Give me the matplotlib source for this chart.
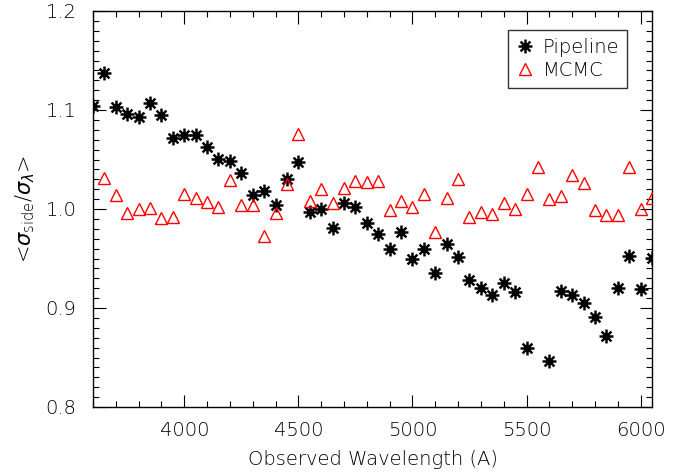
import matplotlib
matplotlib.use("Agg")
import matplotlib.pyplot as plt
from matplotlib.path import Path
from matplotlib.lines import Line2D
from matplotlib.ticker import MultipleLocator, FormatStrFormatter

plt.rcParams['font.family'] = ['DejaVu Sans']
plt.rcParams['font.weight'] = 'light'
plt.rcParams['axes.labelweight'] = 'light'
plt.rcParams['mathtext.fontset'] = 'dejavusans'

# Pipeline data (wavelength in Angstrom, ratio)
pipe_wave = [3600, 3650, 3700, 3750, 3800, 3850, 3900, 3950, 4000, 4050,
             4100, 4150, 4200, 4250, 4300, 4350, 4400, 4450, 4500, 4550,
             4600, 4650, 4700, 4750, 4800, 4850, 4900, 4950, 5000, 5050,
             5100, 5150, 5200, 5250, 5300, 5350, 5400, 5450, 5500, 5600,
             5650, 5700, 5750, 5800, 5850, 5900, 5950, 6000, 6050]
pipe_val = [1.104, 1.137, 1.103, 1.096, 1.093, 1.107, 1.095, 1.072, 1.075, 1.075,
            1.063, 1.051, 1.048, 1.036, 1.014, 1.018, 1.004, 1.030, 1.047, 0.997,
            1.000, 0.981, 1.006, 1.002, 0.986, 0.975, 0.960, 0.977, 0.950, 0.960,
            0.935, 0.965, 0.952, 0.928, 0.920, 0.913, 0.925, 0.916, 0.860, 0.846,
            0.917, 0.913, 0.905, 0.891, 0.872, 0.920, 0.953, 0.919, 0.951]

# MCMC data
mcmc_wave = [3650, 3700, 3750, 3800, 3850, 3900, 3950, 4000, 4050, 4100,
             4150, 4200, 4250, 4300, 4350, 4400, 4450, 4500, 4550, 4600,
             4650, 4700, 4750, 4800, 4850, 4900, 4950, 5000, 5050, 5100,
             5150, 5200, 5250, 5300, 5350, 5400, 5450, 5500, 5550, 5600,
             5650, 5700, 5750, 5800, 5850, 5900, 5950, 6000, 6050]
mcmc_val = [1.031, 1.014, 0.996, 1.000, 1.001, 0.991, 0.992, 1.015, 1.011, 1.007,
            1.002, 1.029, 1.004, 1.004, 0.973, 0.996, 1.025, 1.076, 1.008, 1.020,
            1.006, 1.021, 1.028, 1.027, 1.028, 0.999, 1.008, 1.002, 1.015, 0.977,
            1.011, 1.030, 0.992, 0.997, 0.995, 1.006, 1.000, 1.015, 1.042, 1.010,
            1.013, 1.034, 1.026, 0.999, 0.994, 0.994, 1.042, 1.000, 1.011]

# Asterisk marker (8 arms)
c = 0.7071
verts = [(-1, 0), (1, 0), (0, -1), (0, 1), (-c, -c), (c, c), (-c, c), (c, -c)]
codes = [Path.MOVETO, Path.LINETO] * 4
star = Path(verts, codes)

fig = plt.figure(figsize=(6.86, 4.75), dpi=100)
ax = fig.add_axes([93/686, (475-407)/475, (652-93)/686, (407-11)/475])

ax.plot(pipe_wave, pipe_val, linestyle='none', marker=star, markersize=10,
        markeredgewidth=1.8, color='black', zorder=3)
ax.plot(mcmc_wave, mcmc_val, linestyle='none', marker='^', markersize=9,
        markerfacecolor='none', markeredgecolor='red', markeredgewidth=1.0,
        zorder=3)

ax.set_xlim(3600, 6050)
ax.set_ylim(0.8, 1.2)

ax.xaxis.set_major_locator(MultipleLocator(500))
ax.xaxis.set_minor_locator(MultipleLocator(100))
ax.yaxis.set_major_locator(MultipleLocator(0.1))
ax.yaxis.set_minor_locator(MultipleLocator(0.01))
ax.yaxis.set_major_formatter(FormatStrFormatter('%.1f'))

ax.tick_params(which='both', direction='in', top=True, right=True,
               labelsize=14, width=0.8, colors='black')
ax.tick_params(axis='x', which='both', pad=10)
ax.tick_params(axis='y', which='both', pad=12)
ax.tick_params(which='major', length=9)
ax.tick_params(which='minor', length=4.5)
for s in ax.spines.values():
    s.set_linewidth(1.0)

ax.set_xlabel('Observed Wavelength (A)', fontsize=14, labelpad=7,
              fontweight='light')
ax.set_ylabel(r'<$\sigma_{\rm side}$/$\sigma_{\lambda}$>', fontsize=15, labelpad=6)

h1 = Line2D([], [], linestyle='none', marker=star, markersize=10,
            markeredgewidth=1.8, color='black')
h2 = Line2D([], [], linestyle='none', marker='^', markersize=9,
            markerfacecolor='none', markeredgecolor='red', markeredgewidth=1.0)
leg = ax.legend([h1, h2], ['Pipeline', 'MCMC'], loc='upper right',
                bbox_to_anchor=(0.956, 0.951), fontsize=14, frameon=True,
                fancybox=False, edgecolor='black', handlelength=0.9,
                handletextpad=0.5, borderpad=0.4, labelspacing=0.2,
                borderaxespad=0.0)
leg.get_frame().set_linewidth(1.0)

fig.savefig('out.png', dpi=100)
